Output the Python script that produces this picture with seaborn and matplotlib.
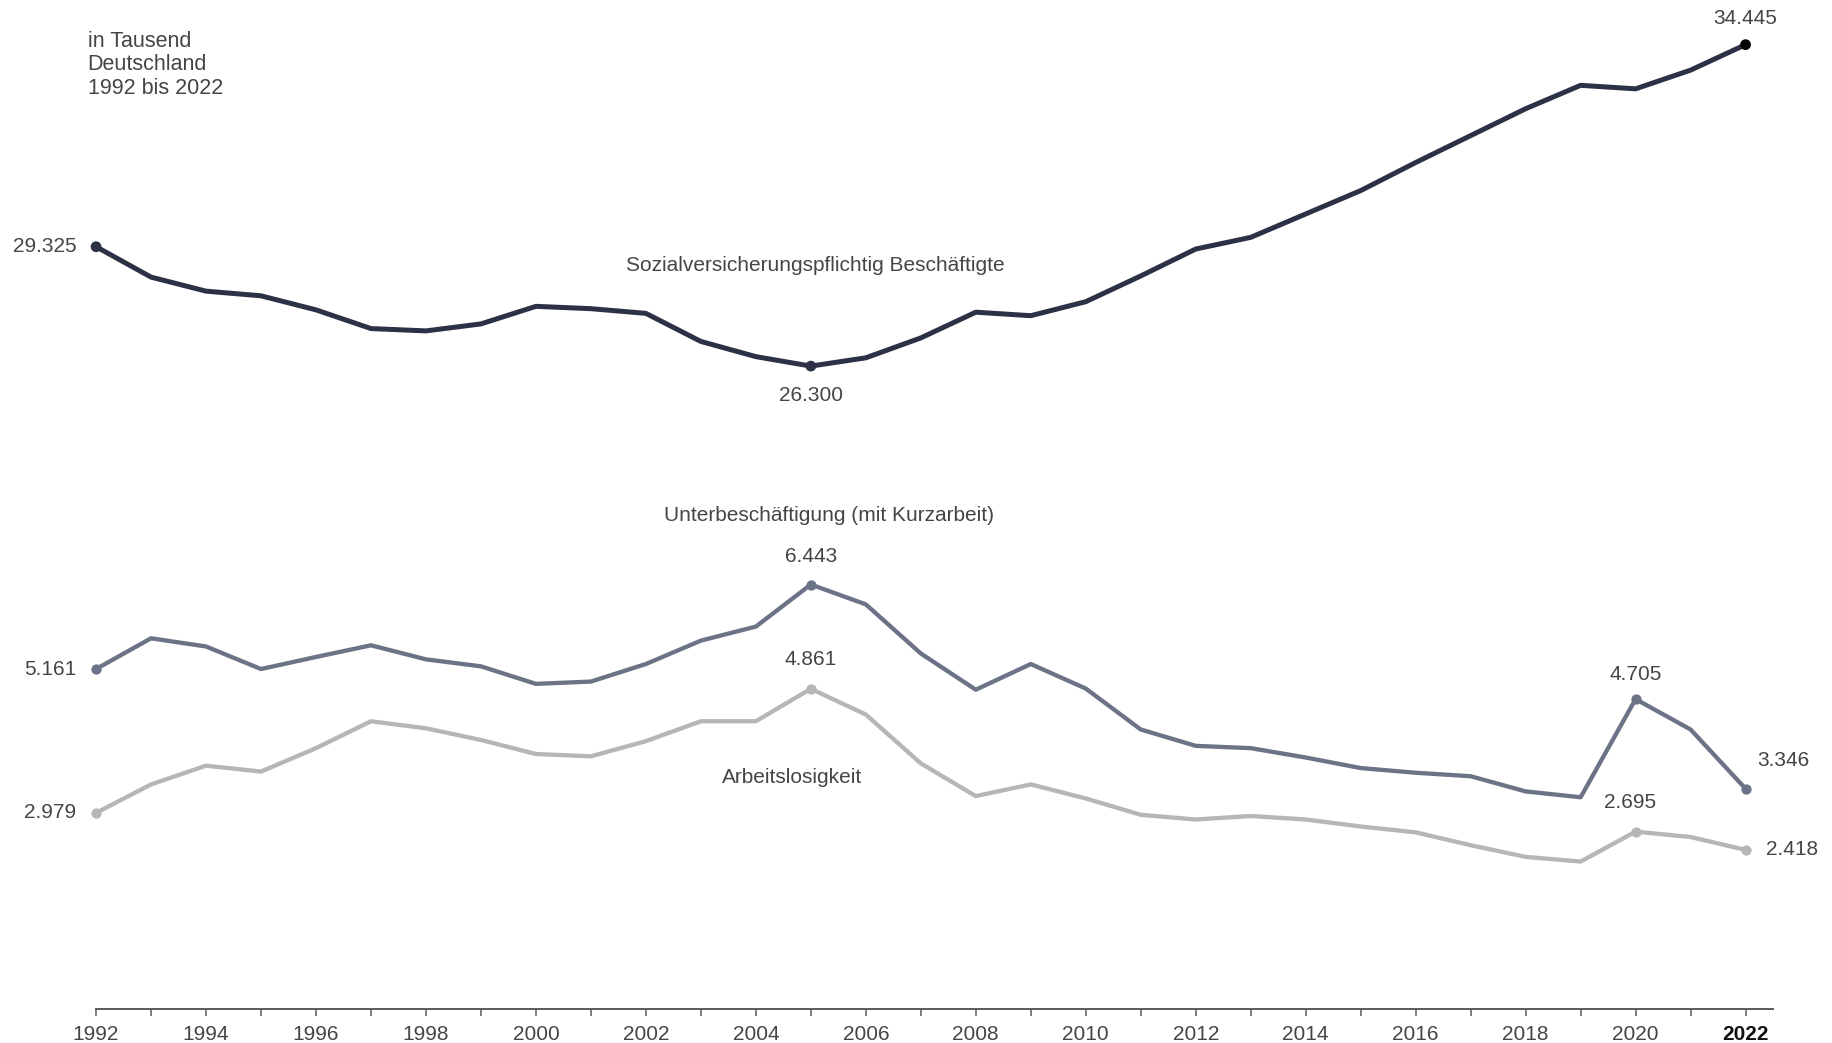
import matplotlib
matplotlib.use("Agg")
import matplotlib.pyplot as plt
import pandas as pd
import seaborn as sns

# Beschäftigung und Unterbeschäftigung in Deutschland, in Tausend
years = list(range(1992, 2023))
beschaeftigte = [29325, 28555, 28199, 28081, 27725, 27251, 27192, 27369, 27814, 27755,
                 27636, 26925, 26540, 26300, 26510, 27014, 27666, 27577, 27932, 28584,
                 29266, 29562, 30155, 30747, 31458, 32140, 32821, 33414, 33325, 33799,
                 34445]
unterbeschaeftigung = [5161, 5627, 5503, 5161, 5344, 5521, 5308, 5202, 4936, 4971,
                       5237, 5592, 5805, 6443, 6142, 5397, 4847, 5237, 4865, 4244,
                       3996, 3961, 3819, 3659, 3588, 3535, 3305, 3216, 4705, 4244,
                       3346]
arbeitslosigkeit = [2979, 3411, 3695, 3606, 3961, 4369, 4262, 4085, 3872, 3837,
                    4067, 4369, 4369, 4861, 4471, 3730, 3234, 3411, 3198, 2950,
                    2879, 2932, 2879, 2773, 2684, 2489, 2312, 2241, 2695, 2613,
                    2418]

tick_years = list(range(1992, 2023, 2))
hl_beschaeftigte = [1992, 2005, 2022]
hl_unter = [1992, 2005, 2020, 2022]
hl_arbeitslos = [1992, 2005, 2020, 2022]

df = pd.DataFrame({
    "Jahr": years,
    "Beschäftigte": beschaeftigte,
    "Unterbeschäftigung": unterbeschaeftigung,
    "Arbeitslosigkeit": arbeitslosigkeit,
})

sns.set_theme(style="white")
plt.rcParams["font.family"] = ["Liberation Sans", "DejaVu Sans"]

C_TOP = "#2c3145"
C_UNTER = "#6c7387"
C_ALO = "#b6b6b6"
C_TEXT = "#454545"
FS = 15


def de(v):
    return f"{v:,}".replace(",", ".")


fig = plt.figure(figsize=(18.33, 10.43), dpi=100)
ax_top = fig.add_axes([0.0524, 0.5998, 0.9149, 0.3784])
ax_bot = fig.add_axes([0.0524, 0.0323, 0.9149, 0.4425])

for ax in (ax_top, ax_bot):
    ax.set_xlim(1992, 2022.5)
    for s in ("top", "right", "left", "bottom"):
        ax.spines[s].set_visible(False)
    ax.set_yticks([])

ax_top.set_ylim(25000, 35000)
ax_bot.set_ylim(0, 7000)
ax_top.set_xticks([])

# Linien
sns.lineplot(data=df, x="Jahr", y="Beschäftigte", ax=ax_top, color=C_TOP,
             linewidth=3.6, clip_on=False)
sns.lineplot(data=df, x="Jahr", y="Unterbeschäftigung", ax=ax_bot, color=C_UNTER,
             linewidth=3.1, clip_on=False)
sns.lineplot(data=df, x="Jahr", y="Arbeitslosigkeit", ax=ax_bot, color=C_ALO,
             linewidth=3.1, clip_on=False)

# Hervorgehobene Punkte
sub = df[df["Jahr"].isin(hl_beschaeftigte)]
cols = ["black" if y == 2022 else C_TOP for y in sub["Jahr"]]
ax_top.scatter(sub["Jahr"], sub["Beschäftigte"], s=60, c=cols, zorder=5,
               clip_on=False, linewidths=0)
sub_u = df[df["Jahr"].isin(hl_unter)]
sns.scatterplot(data=sub_u, x="Jahr", y="Unterbeschäftigung", ax=ax_bot, color=C_UNTER,
                s=55, linewidth=0, zorder=5, clip_on=False)
sub_a = df[df["Jahr"].isin(hl_arbeitslos)]
sns.scatterplot(data=sub_a, x="Jahr", y="Arbeitslosigkeit", ax=ax_bot, color=C_ALO,
                s=55, linewidth=0, zorder=5, clip_on=False)
for ax in (ax_top, ax_bot):
    ax.set_xlabel("")
    ax.set_ylabel("")


def lab(ax, series, year, dx, dy, ha="center", va="center"):
    v = series[years.index(year)]
    ax.annotate(de(v), xy=(year, v), xytext=(dx, dy), textcoords="offset points",
                ha=ha, va=va, fontsize=FS, color=C_TEXT, annotation_clip=False)


lab(ax_top, beschaeftigte, 1992, -14, 0, ha="right")
lab(ax_top, beschaeftigte, 2005, 0, -21)
lab(ax_top, beschaeftigte, 2022, 0, 19)

lab(ax_bot, unterbeschaeftigung, 1992, -14, 0, ha="right")
lab(ax_bot, unterbeschaeftigung, 2005, 0, 20)
lab(ax_bot, unterbeschaeftigung, 2020, 0, 17.5)
lab(ax_bot, unterbeschaeftigung, 2022, 27, 20)

lab(ax_bot, arbeitslosigkeit, 1992, -14, 0, ha="right")
lab(ax_bot, arbeitslosigkeit, 2005, 0, 21)
lab(ax_bot, arbeitslosigkeit, 2020, -4, 21)
lab(ax_bot, arbeitslosigkeit, 2022, 15, 0, ha="left")

# Reihenbeschriftungen
ax_top.text(2005.08, 28850, "Sozialversicherungspflichtig Beschäftigte", ha="center",
            va="center", fontsize=FS, color=C_TEXT)
ax_bot.text(2005.33, 7490, "Unterbeschäftigung (mit Kurzarbeit)", ha="center",
            va="center", fontsize=FS, color=C_TEXT)
ax_bot.text(2004.65, 3510, "Arbeitslosigkeit", ha="center", va="center",
            fontsize=FS, color=C_TEXT)

fig.text(0.0478, 1 - 31 / 1043, "in Tausend\nDeutschland\n1992 bis 2022",
         ha="left", va="top", fontsize=FS + 0.5, color=C_TEXT, linespacing=1.15)

# x-Achse
ax_bot.spines["bottom"].set_visible(True)
ax_bot.spines["bottom"].set_color("#5a5a5a")
ax_bot.spines["bottom"].set_linewidth(1.4)
ax_bot.set_xticks(tick_years)
ax_bot.set_xticks(years, minor=True)
ax_bot.set_xticklabels([str(y) for y in tick_years])
ax_bot.tick_params(axis="x", which="both", direction="out", length=5, width=1.1,
                   color="#5a5a5a", bottom=True, labelsize=FS, labelcolor=C_TEXT, pad=6)
for t in ax_bot.get_xticklabels():
    if t.get_text() == "2022":
        t.set_color("#111111")
        t.set_fontweight("bold")

fig.savefig("out.png", dpi=100, facecolor="white")
